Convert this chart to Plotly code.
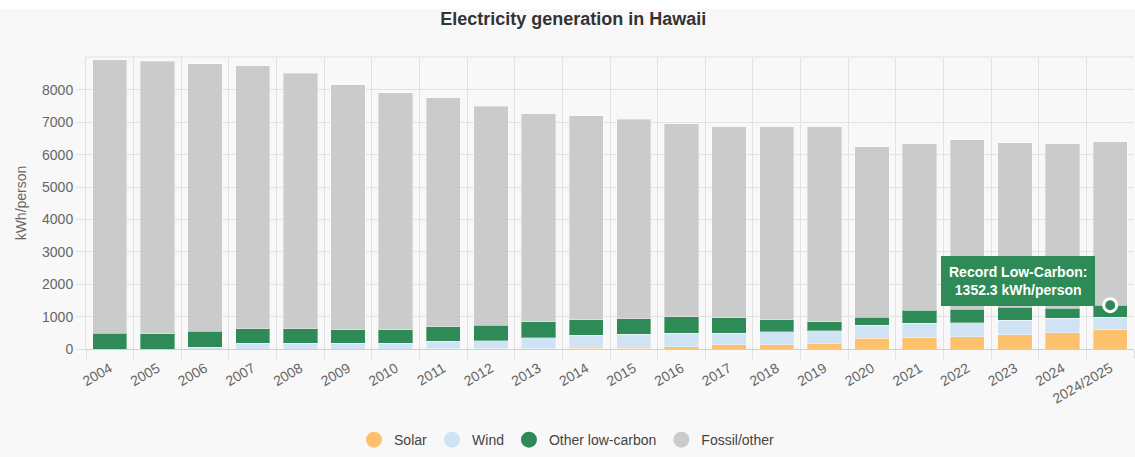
import plotly.graph_objects as go

years = ["2004", "2005", "2006", "2007", "2008", "2009", "2010", "2011", "2012", "2013",
         "2014", "2015", "2016", "2017", "2018", "2019", "2020", "2021", "2022", "2023",
         "2024", "2024/2025"]
solar = [0, 0, 0, 0, 0, 0, 0, 10, 10, 15, 20, 30, 62, 124, 124, 185, 330, 340, 371, 442, 504, 587]
wind = [0, 0, 60, 175, 175, 175, 185, 222, 247, 335, 402, 423, 432, 360, 411, 371, 401, 453, 432, 444, 444, 401]
other_low_carbon = [494, 475, 485, 452, 452, 422, 402, 458, 474, 484, 474, 474, 505, 474, 361, 278, 248, 402, 423, 402, 318, 364.3]
fossil = [8433, 8411, 8258, 8124, 7888, 7558, 7330, 7063, 6765, 6434, 6301, 6167, 5951, 5909, 5971, 6033, 5261, 5137, 5240, 5075, 5066, 5052]
y_ticks = [0, 1000, 2000, 3000, 4000, 5000, 6000, 7000, 8000]
record_label = "2024/2025"
record_value = 1352.3

FONT = "Liberation Sans, Arial, sans-serif"
C_SOLAR = "#fdc16d"
C_WIND = "#cfe3f5"
C_OTHER = "#2e8b57"
C_FOSSIL = "#cbcbcb"
GRID = "#e2e2e2"
BG = "#f8f8f8"

fig = go.Figure()
series = [("Solar", solar, C_SOLAR), ("Wind", wind, C_WIND),
          ("Other low-carbon", other_low_carbon, C_OTHER), ("Fossil/other", fossil, C_FOSSIL)]
for name, vals, col in series:
    fig.add_trace(go.Bar(x=years, y=vals, name=name, marker_color=col,
                         marker_line=dict(color="rgba(255,255,255,0.35)", width=1),
                         showlegend=False, hovertemplate="%{x}: %{y}<extra>" + name + "</extra>"))
# legend entries with circle symbols (no visible points)
for name, vals, col in series:
    fig.add_trace(go.Scatter(x=[years[0]], y=[None], mode="markers", name=name,
                             marker=dict(symbol="circle", size=16, color=col), showlegend=True,
                             hoverinfo="skip"))

fig.add_trace(go.Scatter(x=[record_label], y=[record_value], mode="markers", showlegend=False,
                         marker=dict(size=13, color=C_OTHER, line=dict(color="white", width=3)),
                         hoverinfo="skip"))

fig.add_annotation(x=record_label, y=record_value, xref="x", yref="y", showarrow=False,
                   text="<b>Record Low-Carbon:<br>%.1f kWh/person</b>" % record_value,
                   font=dict(family=FONT, size=14, color="white"),
                   bgcolor=C_OTHER, bordercolor=C_OTHER, borderwidth=1, borderpad=7,
                   xshift=-92, yshift=24, align="center")

fig.update_layout(
    width=1135, height=457,
    margin=dict(l=86, r=1, t=57, b=108),
    paper_bgcolor=BG, plot_bgcolor=BG,
    barmode="stack", bargap=0.28,
    font=dict(family=FONT, size=14, color="#666"),
    title=dict(text="<b>Electricity generation in Hawaii</b>", x=0.505, xanchor="center",
               y=1 - 19 / 457, yanchor="middle", yref="container",
               font=dict(family=FONT, size=18, color="#333")),
    legend=dict(orientation="h", x=0.459, xanchor="center", y=-0.312, yanchor="middle",
                font=dict(family=FONT, size=14, color="#444"), bgcolor="rgba(0,0,0,0)",
                itemsizing="trace", traceorder="normal"),
    xaxis=dict(type="category", categoryorder="array", categoryarray=years,
               range=[-0.5, len(years) - 0.5],
               tickson="boundaries", showgrid=True, gridcolor=GRID,
               ticks="outside", ticklen=9, tickcolor=GRID, tickangle=-30,
               ticklabelstandoff=5,
               tickfont=dict(family=FONT, size=14, color="#666"),
               showline=True, linecolor="#d0d0d0", mirror=False, zeroline=False),
    yaxis=dict(range=[0, 9016], tickvals=y_ticks, showgrid=True, gridcolor=GRID,
               ticks="outside", ticklen=9, tickcolor=GRID, zeroline=False,
               showline=True, linecolor=GRID,
               tickfont=dict(family=FONT, size=14, color="#666"),
               title=dict(text="kWh/person", font=dict(family=FONT, size=14, color="#666"), standoff=12)),
    hovermode="closest",
    shapes=[
        dict(type="line", xref="paper", yref="paper", x0=0, x1=1, y0=1, y1=1,
             line=dict(color=GRID, width=1), layer="below"),
        dict(type="rect", xref="paper", yref="paper", x0=-86 / 1048, x1=1 + 1 / 1048,
             y0=1 + (57 - 9) / 292, y1=1 + 57 / 292, fillcolor="white", line=dict(width=0),
             layer="below"),
    ],
)

fig.write_html("out.html")
